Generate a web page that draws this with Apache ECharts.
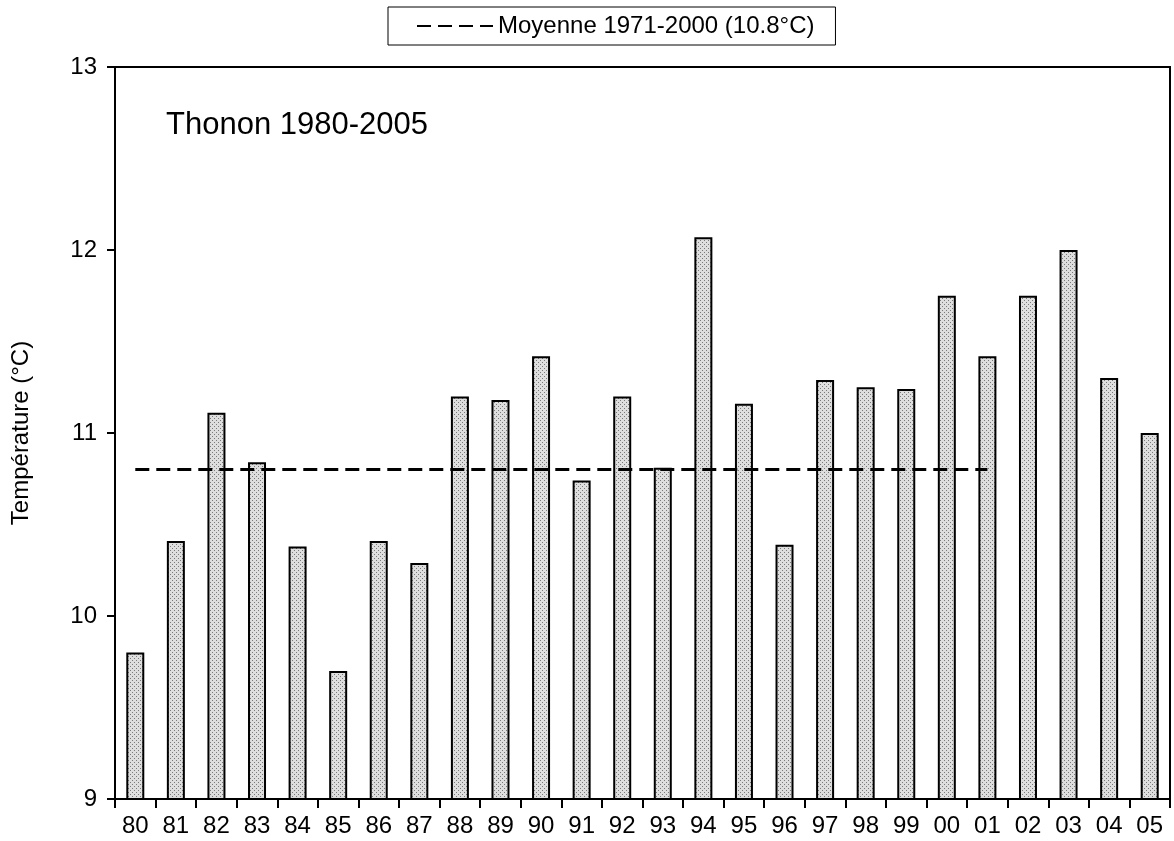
<!DOCTYPE html>
<html>
<head>
<meta charset="utf-8">
<title>Thonon 1980-2005</title>
<script src="https://cdn.jsdelivr.net/npm/echarts@6/dist/echarts.min.js"></script>
<style>
    html, body { margin: 0; padding: 0; background: #fff; }
    #chart { width: 1174px; height: 841px; }
</style>
</head>
<body>
<div id="chart"></div>
<script>
// years (two digits) and annual mean temperature at Thonon
var years = ['80','81','82','83','84','85','86','87','88','89','90','91','92',
             '93','94','95','96','97','98','99','00','01','02','03','04','05'];
var temperatures = [9.80, 10.41, 11.11, 10.84, 10.38, 9.70, 10.41, 10.29, 11.20, 11.18, 11.42, 10.74, 11.20,
                    10.81, 12.07, 11.16, 10.39, 11.29, 11.25, 11.24, 11.75, 11.42, 11.75, 12.00, 11.30, 11.00];
// 1971-2000 reference mean, drawn from 80 to 01
var meanName = 'Moyenne 1971-2000 (10.8°C)';
var meanValue = 10.8;
var meanFrom = '80';
var meanTo = '01';
var yTicks = { min: 9, max: 13, step: 1 };

var font = "'Liberation Sans', Arial, sans-serif";

// stippled grey fill like the original bars
var pat = document.createElement('canvas');
pat.width = 4;
pat.height = 4;
var pctx = pat.getContext('2d');
pctx.fillStyle = '#dedede';
pctx.fillRect(0, 0, 4, 4);
pctx.fillStyle = '#7a7a7a';
pctx.fillRect(0, 0, 1, 1);
pctx.fillRect(2, 2, 1, 1);

var myChart = echarts.init(document.getElementById('chart'));
var option = {
    backgroundColor: '#fff',
    animation: false,
    textStyle: { fontFamily: font, color: '#000' },
    title: {
        text: 'Thonon 1980-2005',
        left: 166,
        top: 110,
        padding: 0,
        textStyle: { fontFamily: font, fontSize: 31, fontWeight: 'normal', color: '#000' }
    },
    legend: {
        data: [meanName],
        left: 388,
        top: 7,
        padding: [7, 21, 7, 28],
        borderColor: '#000',
        borderWidth: 1,
        itemWidth: 76,
        itemHeight: 14,
        itemStyle: { opacity: 0 },
        lineStyle: { width: 2 },
        textStyle: { fontFamily: font, fontSize: 24, color: '#000' }
    },
    grid: {
        left: 115,
        right: 4,
        top: 67,
        bottom: 42,
        show: true,
        borderColor: '#000',
        borderWidth: 2
    },
    xAxis: {
        type: 'category',
        data: years,
        boundaryGap: true,
        axisLine: { lineStyle: { color: '#000', width: 2 } },
        axisTick: { show: true, inside: false, length: 9, alignWithLabel: false, lineStyle: { color: '#000', width: 2 } },
        axisLabel: { interval: 0, margin: 15, fontFamily: font, fontSize: 24, color: '#000' },
        splitLine: { show: false }
    },
    yAxis: {
        type: 'value',
        min: yTicks.min,
        max: yTicks.max,
        interval: yTicks.step,
        name: 'Température (°C)',
        nameLocation: 'middle',
        nameRotate: 90,
        nameGap: 82,
        nameTextStyle: { fontFamily: font, fontSize: 24, color: '#000' },
        axisLine: { show: true, lineStyle: { color: '#000', width: 2 } },
        axisTick: { show: true, inside: false, length: 8, lineStyle: { color: '#000', width: 2 } },
        axisLabel: { margin: 18, fontFamily: font, fontSize: 24, color: '#000' },
        splitLine: { show: false }
    },
    series: [
        {
            type: 'bar',
            data: temperatures,
            barWidth: 18,
            itemStyle: {
                color: { image: pat, repeat: 'repeat' },
                borderColor: '#000',
                borderWidth: 2
            },
            emphasis: { disabled: true }
        },
        {
            name: meanName,
            type: 'line',
            data: [[meanFrom, meanValue], [meanTo, meanValue]],
            symbol: 'none',
            lineStyle: { color: '#000', width: 3, type: [14, 7] },
            itemStyle: { color: '#000' },
            z: 5
        }
    ]
};
myChart.setOption(option);
window.addEventListener('resize', () => {
    myChart.resize()
})
</script>
</body>
</html>
